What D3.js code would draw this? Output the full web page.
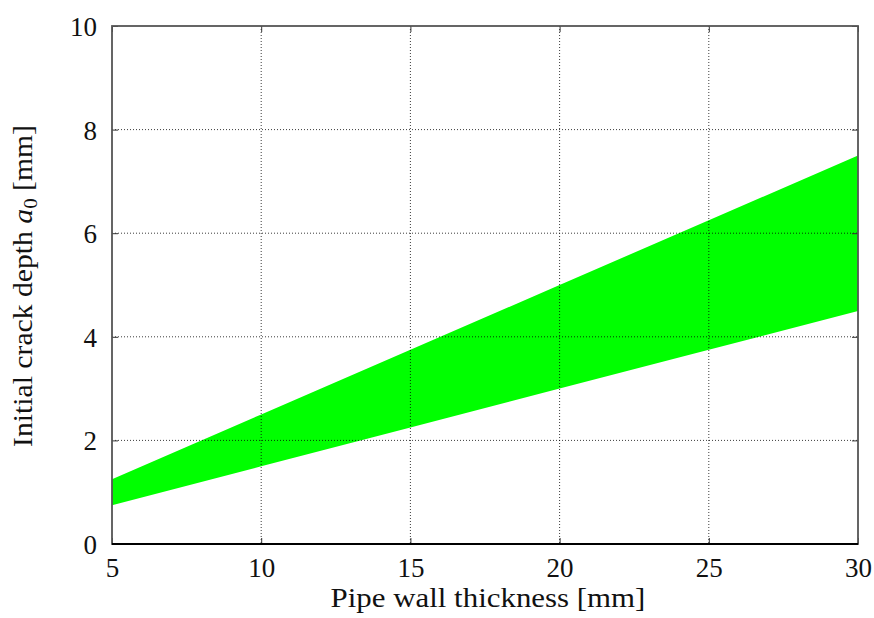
<!DOCTYPE html>
<html><head><meta charset="utf-8">
<script src="https://cdn.jsdelivr.net/npm/d3@7"></script>
<style>body{margin:0;background:#fff}svg text{font-family:"Liberation Serif","DejaVu Serif",serif;fill:#111}</style>
</head><body><svg id="c" width="874" height="618"></svg>
<script>
const thickness = [5, 10, 15, 20, 25, 30];
const lowerDepth = [0.75, 1.5, 2.25, 3.0, 3.75, 4.5];
const upperDepth = [1.25, 2.5, 3.75, 5.0, 6.25, 7.5];
const xTicks = [5, 10, 15, 20, 25, 30];
const yTicks = [0, 2, 4, 6, 8, 10];

const svg = d3.select("#c");
const m = {l:112, r:858, t:26, b:544};
const x = d3.scaleLinear().domain([5,30]).range([m.l,m.r]);
const y = d3.scaleLinear().domain([0,10]).range([m.b,m.t]);

const data = thickness.map((t,i)=>({t, lo:lowerDepth[i], hi:upperDepth[i]}));
svg.append("path").datum(data)
  .attr("d", d3.area().x(d=>x(d.t)).y0(d=>y(d.lo)).y1(d=>y(d.hi)))
  .attr("fill","#00ff00");

// grid
const g = svg.append("g");
xTicks.slice(1,-1).forEach(v=>g.append("line").attr("x1",x(v)).attr("x2",x(v)).attr("y1",m.t).attr("y2",m.b)
  .attr("stroke","#000").attr("stroke-width",0.9).attr("stroke-dasharray","1,2").attr("opacity",0.85));
yTicks.slice(1,-1).forEach(v=>g.append("line").attr("y1",y(v)).attr("y2",y(v)).attr("x1",m.l).attr("x2",m.r)
  .attr("stroke","#000").attr("stroke-width",0.9).attr("stroke-dasharray","1,2").attr("opacity",0.85));

// axes with inward ticks
const ax = svg.append("g").attr("transform",`translate(0,${m.b})`)
  .call(d3.axisBottom(x).tickValues(xTicks).tickSize(-6).tickPadding(14));
const axT = svg.append("g").attr("transform",`translate(0,${m.t})`)
  .call(d3.axisTop(x).tickValues(xTicks).tickSize(-6).tickFormat(""));
const ay = svg.append("g").attr("transform",`translate(${m.l},0)`)
  .call(d3.axisLeft(y).tickValues(yTicks).tickSize(-6).tickPadding(15));
const ayR = svg.append("g").attr("transform",`translate(${m.r},0)`)
  .call(d3.axisRight(y).tickValues(yTicks).tickSize(-6).tickFormat(""));
[ax,axT,ay,ayR].forEach(a=>{a.select(".domain").remove();a.selectAll("line").attr("stroke","#333");a.selectAll("text").attr("font-size",27).attr("font-family","Liberation Serif");});
ax.selectAll("text").attr("dy","0.71em");
ay.selectAll("text").attr("dy","0.35em");

// frame
svg.append("rect").attr("x",m.l).attr("y",m.t).attr("width",m.r-m.l).attr("height",m.b-m.t)
  .attr("fill","none").attr("stroke","#555").attr("stroke-width",1.8);
svg.append("line").attr("x1",m.l).attr("x2",m.r).attr("y1",m.b).attr("y2",m.b).attr("stroke","#000").attr("stroke-width",2);

// labels (stretched to mimic Computer Modern widths)
const xl = svg.append("text").attr("text-anchor","middle").attr("font-size",27)
  .text("Pipe wall thickness [mm]");
const xw = xl.node().getComputedTextLength();
xl.attr("transform",`translate(488,607) scale(${315/xw},1)`);

const yl = svg.append("text").attr("text-anchor","middle").attr("font-size",27);
yl.append("tspan").text("Initial crack depth ");
yl.append("tspan").attr("font-style","italic").text("a");
yl.append("tspan").attr("font-size",19).attr("dy",5).text("0");
yl.append("tspan").attr("dy",-5).text(" [mm]");
const yw = yl.node().getComputedTextLength();
yl.attr("transform",`translate(32,286) rotate(-90) scale(${322/yw},1)`);
</script></body></html>
